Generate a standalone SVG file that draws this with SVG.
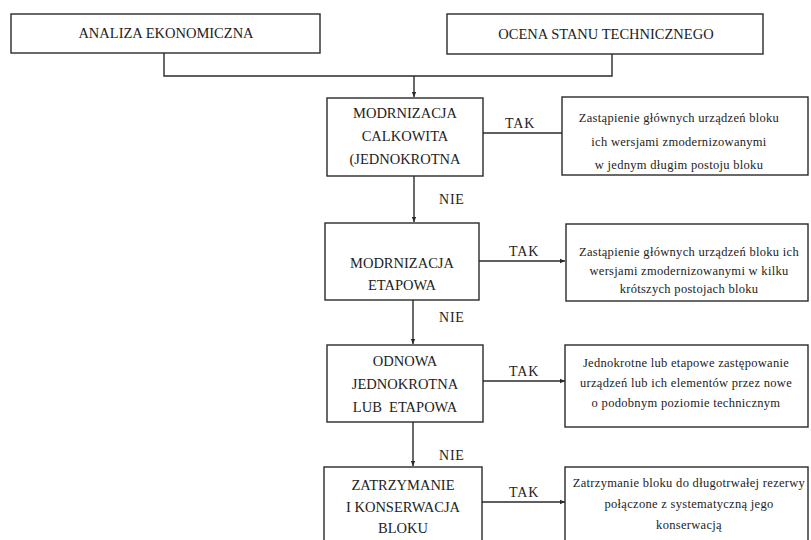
<svg xmlns="http://www.w3.org/2000/svg" width="811" height="540" viewBox="0 0 811 540">
<style>
.box{fill:#fff;stroke:#2a2a2a;stroke-width:1.4}
.ln{fill:none;stroke:#2a2a2a;stroke-width:1.4}
.t{font-family:"Liberation Serif","Times New Roman",serif;font-size:14.5px;fill:#222;text-anchor:middle}
.s{font-family:"Liberation Serif","Times New Roman",serif;font-size:12.5px;fill:#222;text-anchor:middle;letter-spacing:0.3px}
.lbl{font-family:"Liberation Serif","Times New Roman",serif;font-size:14px;fill:#222;letter-spacing:0.8px}
</style>
<defs>
<marker id="arr" markerWidth="6" markerHeight="6" refX="5" refY="3" orient="auto" markerUnits="userSpaceOnUse">
<path d="M0,0.8 L5,3 L0,5.2 Z" fill="#2a2a2a"/>
</marker>
</defs>
<rect width="811" height="540" fill="#fff"/>
<g id="connectors">
<polyline class="ln" points="164,53 164,76 612,76 612,54"/>
<line class="ln" x1="414" y1="76" x2="414" y2="97" marker-end="url(#arr)"/>
<line class="ln" x1="483" y1="133" x2="562" y2="133"/>
<line class="ln" x1="414" y1="176" x2="414" y2="222" marker-end="url(#arr)"/>
<line class="ln" x1="479" y1="261" x2="565" y2="261" marker-end="url(#arr)"/>
<line class="ln" x1="413" y1="300" x2="413" y2="344" marker-end="url(#arr)"/>
<line class="ln" x1="483" y1="381" x2="565" y2="381" marker-end="url(#arr)"/>
<line class="ln" x1="413" y1="422" x2="413" y2="466" marker-end="url(#arr)"/>
<line class="ln" x1="482" y1="502" x2="565" y2="502" marker-end="url(#arr)"/>
<text class="lbl" x="505" y="128">TAK</text>
<text class="lbl" x="509" y="256">TAK</text>
<text class="lbl" x="509" y="376">TAK</text>
<text class="lbl" x="509" y="497">TAK</text>
<text class="lbl" x="439" y="204">NIE</text>
<text class="lbl" x="439" y="322">NIE</text>
<text class="lbl" x="439" y="460">NIE</text>
</g>
<g id="analiza">
<rect class="box" x="11" y="14" width="309" height="39"/>
<text class="t" x="166" y="38">ANALIZA EKONOMICZNA</text>
</g>
<g id="ocena">
<rect class="box" x="447" y="14" width="316" height="40"/>
<text class="t" x="606" y="39">OCENA STANU TECHNICZNEGO</text>
</g>
<g id="mod-calk">
<rect class="box" x="327" y="98" width="156" height="78"/>
<text class="t" x="405" y="118">MODRNIZACJA</text>
<text class="t" x="405" y="141">CALKOWITA</text>
<text class="t" x="405" y="164">(JEDNOKROTNA</text>
</g>
<g id="mod-calk-opis">
<rect class="box" x="562" y="97" width="246" height="78"/>
<text class="s" x="679" y="122">Zastąpienie głównych urządzeń bloku</text>
<text class="s" x="679" y="146">ich wersjami zmodernizowanymi</text>
<text class="s" x="679" y="169">w jednym długim postoju bloku</text>
</g>
<g id="mod-etap">
<rect class="box" x="325" y="223" width="154" height="77"/>
<text class="t" x="402" y="268">MODRNIZACJA</text>
<text class="t" x="402" y="290">ETAPOWA</text>
</g>
<g id="mod-etap-opis">
<rect class="box" x="566" y="224" width="242" height="77"/>
<text class="s" x="689" y="256">Zastąpienie głównych urządzeń bloku ich</text>
<text class="s" x="689" y="275">wersjami zmodernizowanymi w kilku</text>
<text class="s" x="689" y="293">krótszych postojach bloku</text>
</g>
<g id="odnowa">
<rect class="box" x="327" y="345" width="156" height="77"/>
<text class="t" x="405" y="366">ODNOWA</text>
<text class="t" x="405" y="389">JEDNOKROTNA</text>
<text class="t" x="405" y="412">LUB&#160; ETAPOWA</text>
</g>
<g id="odnowa-opis">
<rect class="box" x="565" y="345" width="243" height="82"/>
<text class="s" x="686" y="367">Jednokrotne lub etapowe zastępowanie</text>
<text class="s" x="686" y="387">urządzeń lub ich elementów przez nowe</text>
<text class="s" x="686" y="407">o podobnym poziomie technicznym</text>
</g>
<g id="zatrzymanie">
<rect class="box" x="324" y="467" width="158" height="80"/>
<text class="t" x="403" y="490">ZATRZYMANIE</text>
<text class="t" x="403" y="512">I KONSERWACJA</text>
<text class="t" x="403" y="533">BLOKU</text>
</g>
<g id="zatrzymanie-opis">
<rect class="box" x="565" y="467" width="243" height="80"/>
<text class="s" x="689" y="487">Zatrzymanie bloku do długotrwałej rezerwy</text>
<text class="s" x="689" y="508">połączone z systematyczną jego</text>
<text class="s" x="689" y="529">konserwacją</text>
</g>
</svg>
